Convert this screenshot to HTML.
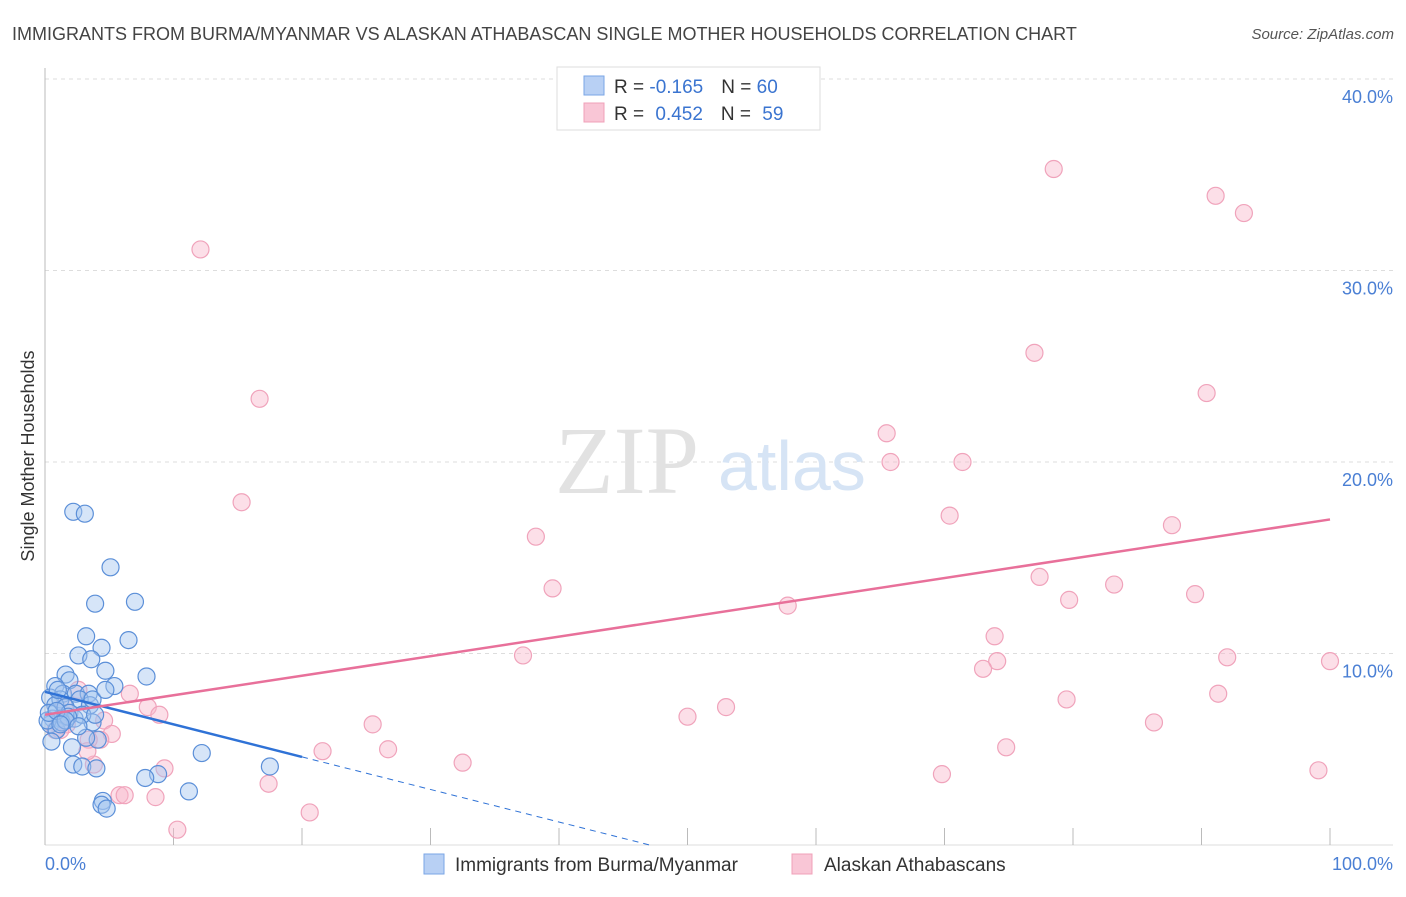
<!DOCTYPE html>
<html><head><meta charset="utf-8"><style>
body{margin:0;background:#fff;font-family:"Liberation Sans",sans-serif;}
</style></head><body>
<svg width="1406" height="892" xmlns="http://www.w3.org/2000/svg" style="font-family:'Liberation Sans',sans-serif">
<text x="12" y="40" font-size="18" fill="#444">IMMIGRANTS FROM BURMA/MYANMAR VS ALASKAN ATHABASCAN SINGLE MOTHER HOUSEHOLDS CORRELATION CHART</text>
<text x="1394" y="39" font-size="15" fill="#555" font-style="italic" text-anchor="end">Source: ZipAtlas.com</text>
<g id="grid"></g>
<text x="555" y="493" font-size="96" font-family="'Liberation Serif',serif" fill="#e2e2e2">ZIP</text>
<text x="718" y="490" font-size="70" fill="#d6e4f5">atlas</text>
<g id="points"></g>
<g id="lines"></g>
<text transform="translate(34,456) rotate(-90)" font-size="18" fill="#333" text-anchor="middle">Single Mother Households</text>
<text x="45" y="870" font-size="18" fill="#4a7fd4">0.0%</text>
<text x="1393" y="870" font-size="18" fill="#4a7fd4" text-anchor="end">100.0%</text>
<g>
<rect x="557" y="67" width="263" height="63" fill="#fff" stroke="#ddd"/>
<rect x="584" y="76" width="20" height="19" fill="#b8d0f4" stroke="#7aa6e6"/>
<rect x="584" y="103" width="20" height="19" fill="#f9c6d6" stroke="#f0a0b8"/>
<text x="614" y="93" font-size="19" fill="#333">R = <tspan fill="#3a74d0">-0.165</tspan><tspan dx="18">N = </tspan><tspan fill="#3a74d0">60</tspan></text>
<text x="614" y="120" font-size="19" fill="#333">R = <tspan fill="#3a74d0" dx="6">0.452</tspan><tspan dx="18">N = </tspan><tspan fill="#3a74d0" dx="6">59</tspan></text>
</g>
<g>
<rect x="424" y="854" width="20" height="20" fill="#b8d0f4" stroke="#7aa6e6"/>
<text x="455" y="871" font-size="19" fill="#333">Immigrants from Burma/Myanmar</text>
<rect x="792" y="854" width="20" height="20" fill="#f9c6d6" stroke="#f0a0b8"/>
<text x="824" y="871" font-size="19" fill="#333">Alaskan Athabascans</text>
</g>
</svg>
<script>
const blueX=[2.2,3.1,5.1,3.9,7.0,3.2,6.5,4.4,2.6,3.6,4.7,7.9,1.6,1.9,0.8,5.4,1.4,2.4,3.4,0.4,1.2,2.7,3.5,0.8,1.6,1.9,0.6,1.2,2.3,3.7,2.9,0.4,0.9,4.1,0.5,2.1,12.2,2.2,2.9,4.0,17.5,8.8,7.8,11.2,4.5,4.4,4.8,0.2,1.3,1.8,3.7,1.0,3.2,4.7,0.3,0.9,1.6,2.6,3.9,1.2];
const blueY=[17.4,17.3,14.5,12.6,12.7,10.9,10.7,10.3,9.9,9.7,9.1,8.8,8.9,8.6,8.3,8.3,7.9,7.9,7.9,7.7,7.6,7.6,7.3,7.3,7.2,6.9,6.6,6.6,6.6,6.4,6.8,6.3,6.0,5.5,5.4,5.1,4.8,4.2,4.1,4.0,4.1,3.7,3.5,2.8,2.3,2.1,1.9,6.5,6.4,6.7,7.6,8.1,5.6,8.1,6.9,7.0,6.5,6.2,6.8,6.3];
const pinkX=[78.5,91.1,93.3,12.1,16.7,77.0,90.4,65.5,65.8,71.4,15.3,70.4,87.7,38.2,39.5,77.4,83.2,79.7,89.5,57.8,73.9,37.2,74.1,73.0,92.0,100.0,91.3,79.5,6.6,8.0,8.9,53.0,50.0,25.5,86.3,4.6,5.2,4.3,3.4,1.7,1.2,1.5,2.6,21.6,26.7,74.8,32.5,9.3,3.8,3.3,69.8,99.1,17.4,5.8,6.2,8.6,20.6,10.3,0.8];
const pinkY=[35.3,33.9,33.0,31.1,23.3,25.7,23.6,21.5,20.0,20.0,17.9,17.2,16.7,16.1,13.4,14.0,13.6,12.8,13.1,12.5,10.9,9.9,9.6,9.2,9.8,9.6,7.9,7.6,7.9,7.2,6.8,7.2,6.7,6.3,6.4,6.5,5.8,5.5,5.5,6.3,6.0,7.3,8.1,4.9,5.0,5.1,4.3,4.0,4.2,4.9,3.7,3.9,3.2,2.6,2.6,2.5,1.7,0.8,6.0];
const yTicks=[10,20,30,40];
const yTickLabels=["10.0%","20.0%","30.0%","40.0%"];
const xTicks=[0,10,20,30,40,50,60,70,80,90,100];
const blueTrend=[8.0,-0.17]; // intercept, slope
const pinkTrend=[6.8,0.102];
const NS="http://www.w3.org/2000/svg";
const sx=v=>45+v*12.85, sy=v=>845-v*19.15;
function mk(t,a,p){const e=document.createElementNS(NS,t);for(const k in a)e.setAttribute(k,a[k]);p.appendChild(e);return e;}
const grid=document.getElementById('grid');
yTicks.forEach((t,i)=>{
 const l=mk('line',{x1:45,x2:1393,y1:sy(t),y2:sy(t),stroke:'#ddd','stroke-dasharray':'4,4'},grid);
 
 
 const tx=mk('text',{x:1393,y:sy(t)+24,'font-size':18,fill:'#4a7fd4','text-anchor':'end'},grid);
 tx.textContent=yTickLabels[i];
 
 
});
const ax=mk('line',{x1:45,x2:45,y1:68,y2:845,stroke:'#bbb'},grid);


const bx=mk('line',{x1:45,x2:1393,y1:845,y2:845,stroke:'#ddd'},grid);


xTicks.forEach(t=>{
 const l=mk('line',{x1:sx(t),x2:sx(t),y1:828,y2:845,stroke:'#bbb'},grid);
 
 
});
const pts=document.getElementById('points');
pinkX.forEach((x,i)=>{
 const c=mk('circle',{cx:sx(x),cy:sy(pinkY[i]),r:8.5,fill:'rgba(248,185,205,0.45)',stroke:'#f0a3bb','stroke-width':1.2},pts);
 
 
});
blueX.forEach((x,i)=>{
 const c=mk('circle',{cx:sx(x),cy:sy(blueY[i]),r:8.5,fill:'rgba(165,198,240,0.45)',stroke:'#5b8fd8','stroke-width':1.2},pts);
 
 
});
const ln=document.getElementById('lines');
const bt=x=>blueTrend[0]+blueTrend[1]*x, pt=x=>pinkTrend[0]+pinkTrend[1]*x;
const zero=-blueTrend[0]/blueTrend[1];
let l=mk('line',{x1:sx(0),y1:sy(bt(0)),x2:sx(20),y2:sy(bt(20)),stroke:'#2f72d6','stroke-width':2.5},ln);


l=mk('line',{x1:sx(20),y1:sy(bt(20)),x2:sx(zero),y2:sy(0),stroke:'#2f72d6','stroke-width':1,'stroke-dasharray':'6,5'},ln);


l=mk('line',{x1:sx(0),y1:sy(pt(0)),x2:sx(100),y2:sy(pt(100)),stroke:'#e8709a','stroke-width':2.5},ln);


</script>
</body></html>
